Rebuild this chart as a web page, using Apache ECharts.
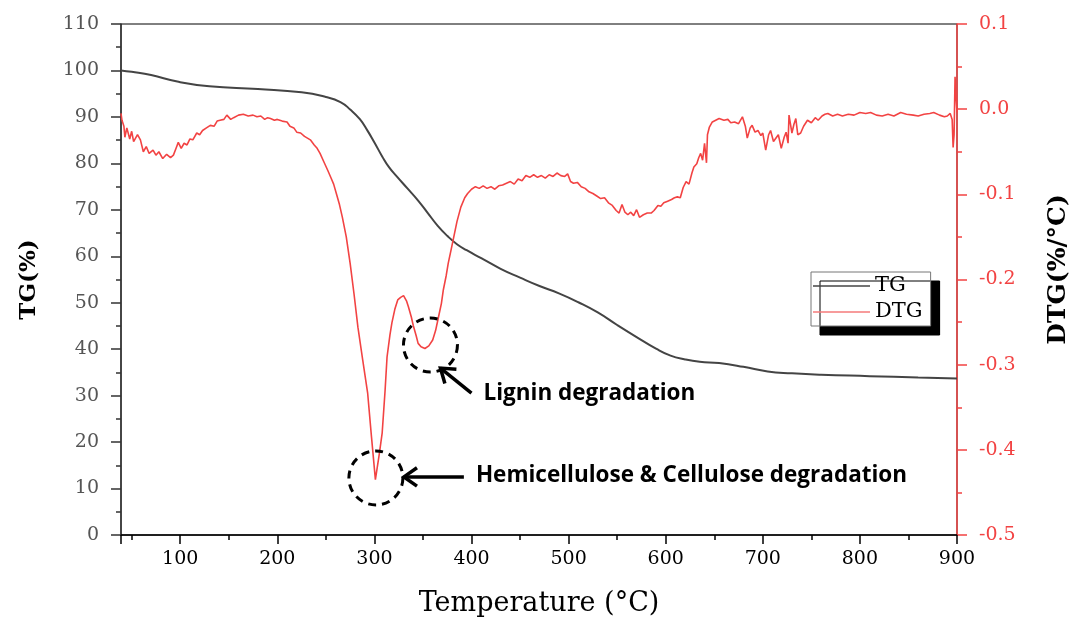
<!DOCTYPE html>
<html>
<head>
<meta charset="utf-8">
<script src="https://cdn.jsdelivr.net/npm/echarts@6/dist/echarts.min.js"></script>
<style>
html,body{margin:0;padding:0;background:#fff;}
#chart{width:1073px;height:620px;}
</style>
</head>
<body>
<div id="chart"></div>
<script>
// ---- Data ----
const tgTemp = [39,50,70,97,130,180,225,250,265,275,285,293,300,308,315,323,334,345,355,365,375,385,395,410,430,450,470,490,510,530,550,570,590,605,620,635,655,680,705,730,760,810,860,900];
const tgVal  = [100,99.7,99.0,97.6,96.6,96.0,95.3,94.3,93.2,91.6,89.5,87.0,84.5,81.5,79.2,77.2,74.6,72.0,69.3,66.6,64.4,62.6,61.3,59.6,57.3,55.4,53.6,52.0,50.1,47.9,45.2,42.6,40.1,38.6,37.8,37.3,37.0,36.2,35.2,34.8,34.5,34.2,33.9,33.7];

const dtgTemp = [39,40,42,43,45,46,48,50,52,54,56,59,62,65,68,72,75,78,82,86,90,93,96,98,101,104,107,110,113,117,120,123,127,131,135,138,141,145,148,150,152,155,160,165,170,175,179,183,187,190,193,197,200,205,210,213,217,220,224,228,231,234,238,241,244,248,252,255,258,261,264,267,271,275,279,283,288,293,297,301,305,308,311,313,316,318,321,324,327,330,333,335,338,340,343,345,348,352,356,360,363,366,369,371,374,376,379,381,385,389,393,396,400,404,408,412,416,420,424,428,432,436,440,444,448,452,456,460,464,468,472,476,480,484,488,492,496,499,502,505,509,513,517,521,525,529,533,537,541,545,549,552,555,558,561,564,567,570,573,577,581,585,588,592,595,598,602,606,609,612,615,618,621,624,627,629,632,634,636,638,640,642,643,645,648,650,655,660,664,667,671,675,679,682,684,687,689,692,695,698,700,703,706,708,711,713,716,719,722,724,726,727,730,732,734,736,739,742,746,750,754,757,761,764,767,772,777,782,788,794,800,806,811,817,823,829,835,842,848,855,860,866,872,876,882,887,890,893,895,896,897,898,899,900];
const dtgVal = [-0.005,-0.013,-0.020,-0.033,-0.022,-0.021,-0.035,-0.026,-0.038,-0.040,-0.030,-0.036,-0.050,-0.044,-0.052,-0.048,-0.054,-0.050,-0.058,-0.053,-0.057,-0.054,-0.045,-0.039,-0.046,-0.040,-0.042,-0.035,-0.036,-0.028,-0.030,-0.025,-0.022,-0.019,-0.020,-0.014,-0.013,-0.012,-0.007,-0.005,-0.012,-0.010,-0.007,-0.006,-0.008,-0.007,-0.009,-0.008,-0.012,-0.010,-0.011,-0.013,-0.012,-0.014,-0.015,-0.020,-0.022,-0.027,-0.028,-0.032,-0.034,-0.036,-0.042,-0.046,-0.052,-0.062,-0.072,-0.080,-0.088,-0.100,-0.112,-0.127,-0.150,-0.181,-0.217,-0.256,-0.295,-0.333,-0.385,-0.435,-0.405,-0.380,-0.330,-0.291,-0.265,-0.251,-0.235,-0.224,-0.221,-0.219,-0.225,-0.232,-0.244,-0.254,-0.266,-0.275,-0.279,-0.281,-0.278,-0.271,-0.260,-0.244,-0.228,-0.212,-0.195,-0.181,-0.165,-0.154,-0.132,-0.115,-0.104,-0.099,-0.094,-0.091,-0.093,-0.090,-0.093,-0.091,-0.094,-0.090,-0.089,-0.087,-0.085,-0.088,-0.082,-0.084,-0.078,-0.080,-0.077,-0.080,-0.078,-0.081,-0.077,-0.079,-0.075,-0.078,-0.079,-0.076,-0.085,-0.087,-0.086,-0.091,-0.093,-0.097,-0.099,-0.102,-0.105,-0.104,-0.110,-0.113,-0.119,-0.122,-0.112,-0.121,-0.124,-0.121,-0.125,-0.118,-0.127,-0.124,-0.122,-0.122,-0.119,-0.113,-0.114,-0.110,-0.108,-0.106,-0.104,-0.103,-0.104,-0.092,-0.085,-0.088,-0.075,-0.068,-0.064,-0.057,-0.052,-0.060,-0.040,-0.063,-0.030,-0.021,-0.015,-0.013,-0.011,-0.013,-0.012,-0.016,-0.015,-0.017,-0.009,-0.020,-0.034,-0.022,-0.019,-0.027,-0.025,-0.031,-0.028,-0.048,-0.030,-0.025,-0.038,-0.040,-0.030,-0.046,-0.033,-0.027,-0.040,-0.007,-0.028,-0.018,-0.011,-0.030,-0.028,-0.020,-0.013,-0.016,-0.010,-0.013,-0.008,-0.006,-0.005,-0.008,-0.006,-0.008,-0.006,-0.007,-0.004,-0.005,-0.004,-0.007,-0.008,-0.006,-0.008,-0.004,-0.006,-0.007,-0.008,-0.006,-0.005,-0.004,-0.007,-0.009,-0.008,-0.005,-0.012,-0.045,-0.030,0.038,0.015,-0.004];

const xRange = {min: 39, max: 900};
const annHemi = {temp: 301.5, dtg: -0.433, text: 'Hemicellulose & Cellulose degradation'};
const annLignin = {temp: 357.7, dtg: -0.277, text: 'Lignin degradation'};

const tgData = tgTemp.map((t, i) => [t, tgVal[i]]);
const dtgData = dtgTemp.map((t, i) => [t, dtgVal[i]]);

const serif = 'DejaVu Serif';
const red = '#f24343';
const chart = echarts.init(document.getElementById('chart'), null, {renderer: 'canvas'});
chart.setOption({
  animation: false,
  backgroundColor: '#fff',
  grid: {left: 121, right: 116, top: 24, bottom: 85, show: true, borderColor: '#000', borderWidth: 1,
         containLabel: false, outerBoundsMode: 'none'},
  legend: {
    orient: 'vertical', left: 811, top: 272,
    itemWidth: 57, itemHeight: 1.5, itemGap: 2,
    padding: [2, 8, 2, 2],
    backgroundColor: '#fff', borderColor: '#777', borderWidth: 1,
    shadowColor: '#000', shadowOffsetX: 9, shadowOffsetY: 9, shadowBlur: 0.01,
    textStyle: {fontFamily: serif, fontSize: 21, color: '#000', lineHeight: 24},
    data: [{name: 'TG', icon: 'rect'}, {name: 'DTG', icon: 'rect', itemStyle: {color: '#f57a7a'}}]
  },
  xAxis: {
    type: 'value', min: xRange.min, max: xRange.max, splitNumber: 9,
    name: 'Temperature (°C)', nameLocation: 'middle', nameGap: 55,
    nameTextStyle: {fontFamily: serif, fontSize: 27, color: '#000'},
    axisLine: {lineStyle: {color: '#000', width: 1.5}},
    axisTick: {show: true, inside: false, length: 9, lineStyle: {color: '#000', width: 1.5}},
    minorTick: {show: true, splitNumber: 2, length: 5, lineStyle: {color: '#000', width: 1.5}},
    axisLabel: {fontFamily: serif, fontSize: 19, color: '#000', margin: 15, showMinLabel: false},
    splitLine: {show: false}
  },
  yAxis: [{
    type: 'value', min: 0, max: 110, interval: 10, position: 'left',
    name: 'TG(%)', nameLocation: 'middle', nameGap: 80, nameRotate: 90,
    nameTextStyle: {fontFamily: serif, fontSize: 23, fontWeight: 'bold', color: '#000'},
    axisLine: {show: true, lineStyle: {color: '#333', width: 1.5}},
    axisTick: {show: true, inside: false, length: 10, lineStyle: {color: '#333', width: 1.5}},
    minorTick: {show: true, splitNumber: 2, length: 5, lineStyle: {color: '#333', width: 1.5}},
    axisLabel: {fontFamily: serif, fontSize: 19, color: '#555', margin: 22},
    splitLine: {show: false}
  }, {
    type: 'value', min: -0.5, max: 0.1, interval: 0.1, position: 'right',
    name: 'DTG(%/°C)', nameLocation: 'middle', nameGap: 89, nameRotate: 90,
    nameTextStyle: {fontFamily: serif, fontSize: 25, fontWeight: 'bold', color: '#000', padding: [0, 0, 0, 20]},
    axisLine: {show: true, lineStyle: {color: red, width: 1.5}},
    axisTick: {show: true, inside: false, length: 10, lineStyle: {color: red, width: 1.5}},
    minorTick: {show: true, splitNumber: 2, length: 5, lineStyle: {color: red, width: 1.5}},
    axisLabel: {fontFamily: serif, fontSize: 19, color: red, margin: 22,
      formatter: v => v.toFixed(1)},
    splitLine: {show: false}
  }],
  series: [{
    name: 'TG', type: 'line', yAxisIndex: 0, data: tgData, smooth: true,
    symbol: 'none',
    lineStyle: {color: '#444', width: 2}, itemStyle: {color: '#444'}
  }, {
    name: 'DTG', type: 'line', yAxisIndex: 1, data: dtgData, smooth: false,
    symbol: 'none',
    lineStyle: {color: red, width: 1.6}, itemStyle: {color: red}
  }]
});

// ---- Annotations anchored to data coordinates ----
const p1 = chart.convertToPixel({seriesIndex: 1}, [annHemi.temp, annHemi.dtg]);
const p2 = chart.convertToPixel({seriesIndex: 1}, [annLignin.temp, annLignin.dtg]);
const R = 27;
function arrow(tip, tail, headLen) {
  const dx = tail[0] - tip[0], dy = tail[1] - tip[1];
  const L = Math.hypot(dx, dy), ux = dx / L, uy = dy / L;
  const a = 35 * Math.PI / 180;
  const w1 = [tip[0] + headLen * (ux * Math.cos(a) - uy * Math.sin(a)), tip[1] + headLen * (ux * Math.sin(a) + uy * Math.cos(a))];
  const w2 = [tip[0] + headLen * (ux * Math.cos(-a) - uy * Math.sin(-a)), tip[1] + headLen * (ux * Math.sin(-a) + uy * Math.cos(-a))];
  const st = {stroke: '#000', lineWidth: 3.5, fill: null, lineCap: 'butt', lineJoin: 'miter'};
  return [
    {type: 'polyline', shape: {points: [tip, tail]}, style: st, z: 100},
    {type: 'polyline', shape: {points: [w1, tip, w2]}, style: st, z: 100}
  ];
}
const dashStyle = {stroke: '#000', fill: null, lineWidth: 3, lineDash: [8, 6]};
const annFont = 'bold 22.5px "Open Sans"';
chart.setOption({
  graphic: [
    {type: 'circle', shape: {cx: p1[0], cy: p1[1], r: R}, style: dashStyle, z: 100},
    {type: 'circle', shape: {cx: p2[0], cy: p2[1], r: R}, style: dashStyle, z: 100},
    ...arrow([p1[0] + R + 1, p1[1] - 1], [p1[0] + 88, p1[1] - 1], 16),
    ...arrow([p2[0] + 10, p2[1] + 23], [p2[0] + 41, p2[1] + 48], 16),
    {type: 'text', x: p1[0] + 100, y: p1[1] - 2, style: {text: annHemi.text, font: annFont, fill: '#000', verticalAlign: 'middle', align: 'left'}, z: 100},
    {type: 'text', x: p2[0] + 53, y: p2[1] + 49, style: {text: annLignin.text, font: annFont, fill: '#000', verticalAlign: 'middle', align: 'left'}, z: 100}
  ]
});
</script>
</body>
</html>
